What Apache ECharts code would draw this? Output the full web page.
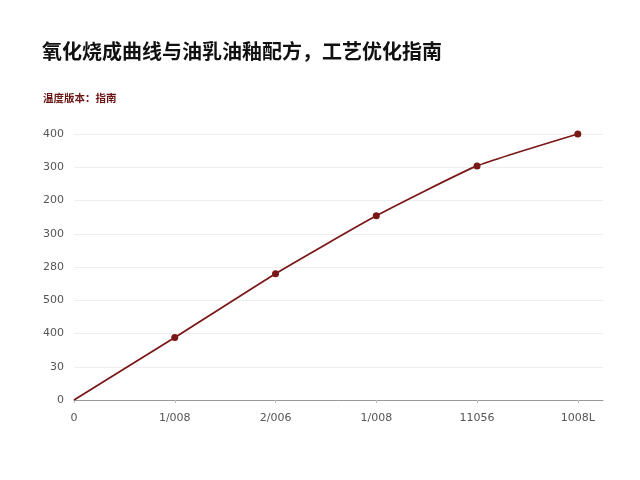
<!DOCTYPE html>
<html style="height: 100%">
<head>
  <meta charset="utf-8">
  <title>氧化烧成曲线</title>
</head>
<body style="height: 100%; margin: 0; background: #fff">
<div id="container" style="width: 640px; height: 480px"></div>
<script type="text/javascript" src="https://cdn.jsdelivr.net/npm/echarts@6/dist/echarts.min.js"></script>
<script type="text/javascript">
  let dom = document.getElementById("container");
  let myChart = echarts.init(dom);

  // x 刻度标签 (按原图)
  let xLabels = ['0', '1/008', '2/006', '1/008', '11056', '1008L']
  // y 刻度标签, 从下往上
  let yLabels = ['0', '30', '400', '500', '280', '300', '200', '300', '400']
  // 数据点 (x 索引, y 值, 0-400 刻度)
  let xValues = [0, 1, 2, 3, 4, 5]
  let yValues = [0, 94, 190, 277, 352, 400]

  // 原点不画圆点
  let points = xValues.map((x, i) => ({
    value: [x, yValues[i]],
    symbolSize: i === 0 ? 0 : 7
  }))

  let option = {
    backgroundColor: '#fff',
    title: [
      {
        text: '氧化烧成曲线与油乳油釉配方，工艺优化指南',
        left: 37,
        top: 36,
        textStyle: {
          fontFamily: 'Noto Sans CJK SC',
          fontSize: 20,
          fontWeight: 'bold',
          color: '#111'
        }
      },
      {
        text: '温度版本：指南',
        left: 38,
        top: 88,
        textStyle: {
          fontFamily: 'Noto Sans CJK SC',
          fontSize: 10.5,
          fontWeight: 'bold',
          color: '#6b1515'
        }
      }
    ],
    grid: { left: 74, right: 37, top: 134, bottom: 80 },
    xAxis: {
      type: 'value',
      min: 0,
      max: 5.25,
      interval: 1,
      axisLine: { lineStyle: { color: '#999' } },
      axisTick: { show: true, length: 3, lineStyle: { color: '#bbb' } },
      splitLine: { show: false },
      axisLabel: {
        showMaxLabel: false,
        margin: 13,
        color: '#555',
        fontSize: 11,
        fontFamily: 'DejaVu Sans',
        formatter: v => (Number.isInteger(v) ? xLabels[v] : '')
      }
    },
    yAxis: {
      type: 'value',
      min: 0,
      max: 400,
      interval: 50,
      axisLine: { show: false },
      axisTick: { show: false },
      splitLine: { lineStyle: { color: '#eeeeee' } },
      axisLabel: {
        margin: 10,
        color: '#555',
        fontSize: 11,
        fontFamily: 'DejaVu Sans',
        formatter: v => yLabels[Math.round(v / 50)]
      }
    },
    series: [
      {
        type: 'line',
        data: points,
        smooth: 0.15,
        symbol: 'circle',
        showSymbol: true,
        lineStyle: { color: '#7a1818', width: 1.8 },
        itemStyle: { color: '#7a1818' }
      }
    ]
  };

  myChart.setOption(option, true);
</script>
</body>
</html>
